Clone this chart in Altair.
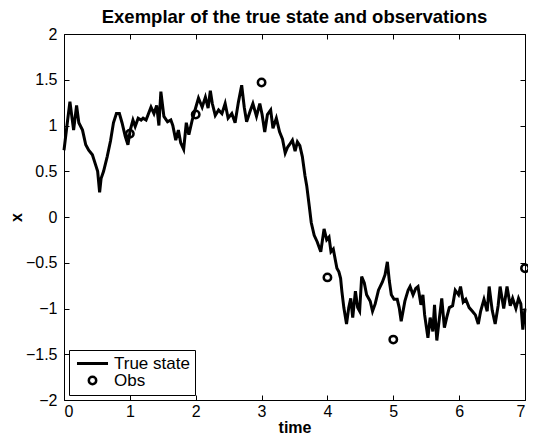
import altair as alt
import pandas as pd

# True state trajectory
time = [0.000, 0.045, 0.090, 0.146, 0.191, 0.225, 0.281, 0.330, 0.375, 0.431,
        0.480, 0.511, 0.541, 0.563, 0.601, 0.656, 0.706, 0.751, 0.796, 0.841,
        0.881, 0.931, 0.971, 1.006, 1.047, 1.081, 1.126, 1.171, 1.201, 1.246,
        1.321, 1.366, 1.407, 1.441, 1.471, 1.517, 1.572, 1.622, 1.652, 1.697,
        1.737, 1.772, 1.817, 1.857, 1.896, 1.947, 1.982, 2.042, 2.098, 2.147,
        2.188, 2.222, 2.252, 2.297, 2.347, 2.398, 2.447, 2.492, 2.548, 2.598,
        2.647, 2.698, 2.737, 2.773, 2.823, 2.868, 2.923, 2.973, 3.008, 3.048,
        3.089, 3.138, 3.173, 3.224, 3.273, 3.318, 3.359, 3.393, 3.423, 3.468,
        3.509, 3.544, 3.581, 3.619, 3.659, 3.686, 3.724, 3.754, 3.799, 3.844,
        3.899, 3.949, 3.989, 4.024, 4.054, 4.089, 4.125, 4.144, 4.174, 4.200,
        4.219, 4.249, 4.290, 4.324, 4.354, 4.384, 4.425, 4.459, 4.489, 4.520,
        4.560, 4.595, 4.650, 4.685, 4.725, 4.775, 4.835, 4.875, 4.910, 4.940,
        4.970, 5.011, 5.060, 5.090, 5.120, 5.176, 5.225, 5.255, 5.300, 5.341,
        5.375, 5.420, 5.450, 5.476, 5.526, 5.560, 5.601, 5.626, 5.661, 5.701,
        5.736, 5.776, 5.811, 5.851, 5.901, 5.941, 5.991, 6.021, 6.062, 6.101,
        6.152, 6.201, 6.246, 6.291, 6.326, 6.377, 6.426, 6.456, 6.502, 6.547,
        6.592, 6.622, 6.677, 6.727, 6.776, 6.812, 6.862, 6.902, 6.937, 6.967,
        7.000]
state = [0.73, 1.00, 1.26, 0.95, 1.22, 1.03, 0.95, 0.79, 0.73, 0.68,
         0.57, 0.50, 0.27, 0.42, 0.50, 0.66, 0.83, 1.03, 1.13, 1.13,
         1.03, 0.88, 0.79, 0.95, 1.06, 0.99, 1.08, 1.06, 1.08, 1.06,
         1.20, 1.13, 1.22, 1.00, 1.37, 1.10, 1.04, 1.06, 1.00, 0.84,
         0.95, 0.81, 0.74, 1.03, 0.90, 1.06, 1.15, 1.30, 1.20, 1.31,
         1.19, 1.38, 1.24, 1.11, 1.17, 1.13, 1.24, 1.08, 1.13, 1.03,
         1.25, 1.44, 1.20, 1.04, 1.15, 1.24, 1.10, 1.24, 1.12, 0.93,
         1.12, 1.17, 0.97, 1.08, 0.93, 0.85, 0.70, 0.76, 0.79, 0.84,
         0.72, 0.82, 0.78, 0.66, 0.45, 0.34, 0.12, -0.06, -0.20, -0.27,
         -0.38, -0.13, -0.25, -0.22, -0.38, -0.35, -0.49, -0.56, -0.60, -0.67,
         -0.81, -0.99, -1.17, -0.99, -0.89, -1.10, -0.81, -0.99, -1.03, -0.65,
         -0.72, -0.85, -0.92, -1.03, -0.95, -0.80, -0.71, -0.63, -0.49, -0.70,
         -0.85, -0.90, -0.90, -0.99, -1.14, -0.92, -0.80, -0.76, -0.85, -0.78,
         -0.76, -0.96, -0.85, -1.07, -1.32, -1.10, -1.25, -0.96, -1.35, -1.10,
         -0.89, -1.21, -1.10, -0.99, -0.97, -0.80, -0.85, -0.76, -0.93, -0.90,
         -0.99, -1.03, -1.07, -1.17, -1.03, -0.90, -1.03, -0.76, -1.02, -1.17,
         -0.97, -0.76, -1.00, -0.76, -0.97, -0.89, -1.00, -0.89, -0.95, -1.23,
         -1.00]

# Observations
obs_time = [1, 2, 3, 4, 5, 7]
obs_value = [0.91, 1.12, 1.47, -0.66, -1.34, -0.56]

series_names = ["True state", "Obs"]
x_ticks = [0, 1, 2, 3, 4, 5, 6, 7]
y_ticks = [-2, -1.5, -1, -0.5, 0, 0.5, 1, 1.5, 2]

line_df = pd.DataFrame({"time": time, "x": state})
obs_df = pd.DataFrame({"time": obs_time, "x": obs_value, "series": series_names[1]})

FONT = "Liberation Sans"
xscale = alt.Scale(domain=[0, 7], nice=False, zero=False)
yscale = alt.Scale(domain=[-2, 2], nice=False, zero=False)

legend = alt.Legend(
    title=None, orient="bottom-left", offset=5, padding=5,
    strokeColor="black", fillColor="white", cornerRadius=0,
    labelFont=FONT, labelFontSize=17, labelColor="black",
    symbolOffset=10, labelOffset=13, rowPadding=-3,
    symbolStrokeColor="black", symbolFillColor="transparent",
)

axis_common = dict(offset=-5, tickSize=5, domain=False, grid=False,
                   tickColor="black", tickWidth=1,
                   labelFont=FONT, labelFontSize=16, labelColor="black",
                   titleFont=FONT, titleFontSize=16, titleFontWeight="bold",
                   titleColor="black")

line = alt.Chart(line_df).mark_line(strokeWidth=3, color="black").encode(
    x=alt.X("time:Q", scale=xscale,
            axis=alt.Axis(orient="bottom", values=x_ticks, format="~g",
                          labelPadding=3, title="time", titlePadding=0,
                          **axis_common)),
    y=alt.Y("x:Q", scale=yscale,
            axis=alt.Axis(orient="left", values=y_ticks, format="~g",
                          labelPadding=7, title="x", titlePadding=1,
                          **axis_common)),
)

pts = alt.Chart(obs_df).mark_point(filled=False, color="black",
                                   opacity=1).encode(
    x=alt.X("time:Q", scale=xscale,
            axis=alt.Axis(orient="top", values=x_ticks, labels=False,
                          title=None, **axis_common)),
    y=alt.Y("x:Q", scale=yscale,
            axis=alt.Axis(orient="right", values=y_ticks, labels=False,
                          title=None, **axis_common)),
    shape=alt.Shape("series:N",
                    scale=alt.Scale(domain=series_names,
                                    range=["M-3,0H3", "circle"]),
                    legend=legend),
    size=alt.Size("series:N",
                  scale=alt.Scale(domain=series_names, range=[107, 55]),
                  legend=legend),
    strokeWidth=alt.StrokeWidth("series:N",
                                scale=alt.Scale(domain=series_names,
                                                range=[3, 2.5]),
                                legend=legend),
)

chart = alt.layer(line, pts).resolve_axis(
    x="independent", y="independent"
).properties(
    width=461, height=366,
    padding={"left": 56, "top": 26, "right": 3, "bottom": 34},
    autosize=alt.AutoSizeParams(type="none"),
    title=alt.TitleParams("Exemplar of the true state and observations",
                          font=FONT, fontSize=18.5, fontWeight="bold",
                          color="black", offset=0),
).configure_view(stroke="black", strokeWidth=1)

chart.save("out.html", embed_options={"renderer": "svg", "actions": False})
